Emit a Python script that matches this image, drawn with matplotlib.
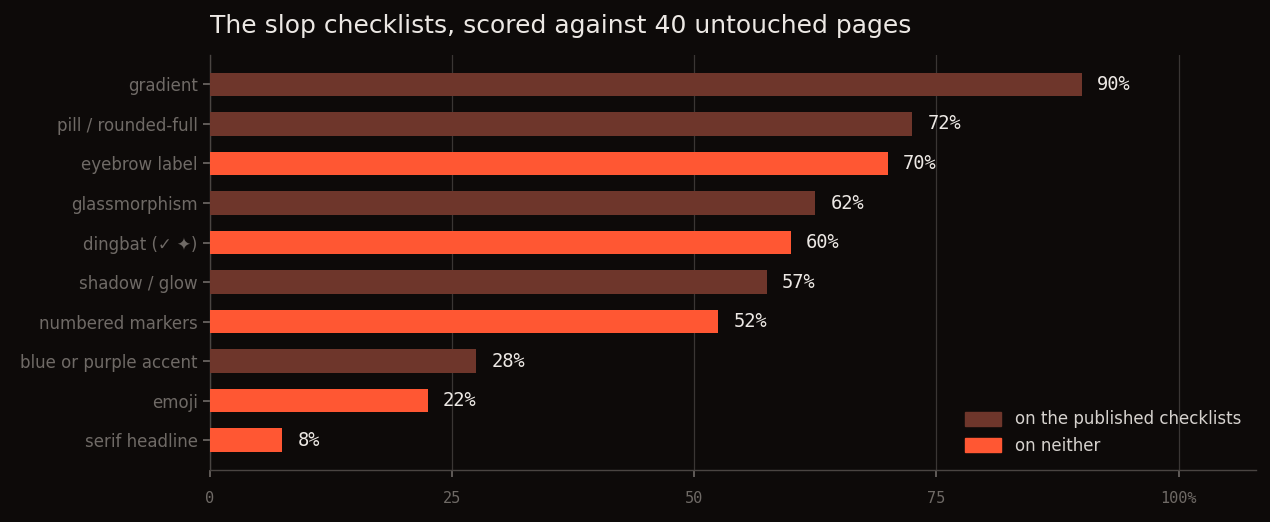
import matplotlib
matplotlib.use('Agg')
import matplotlib.pyplot as plt
from matplotlib.patches import Patch

# Data (share of 40 untouched pages, %)
categories = ['gradient', 'pill / rounded-full', 'eyebrow label', 'glassmorphism',
              'dingbat (✓ ✦)', 'shadow / glow', 'numbered markers',
              'blue or purple accent', 'emoji', 'serif headline']
values = [90, 72.5, 70, 62.5, 60, 57.5, 52.5, 27.5, 22.5, 7.5]
value_labels = ['90%', '72%', '70%', '62%', '60%', '57%', '52%', '28%', '22%', '8%']
on_checklists = [True, True, False, True, False, True, False, True, False, False]
xticks = [0, 25, 50, 75, 100]
xtick_labels = ['0', '25', '50', '75', '100%']

BG = '#0d0a09'
DARK = '#6e362b'
BRIGHT = '#ff5733'
GRID = '#3a3634'
MUTED = '#8a8581'
TEXT = '#ece8e4'

fig, ax = plt.subplots(figsize=(12.7, 5.22), dpi=100)
fig.patch.set_facecolor(BG)
ax.set_facecolor(BG)
fig.subplots_adjust(left=0.165, right=0.989, top=0.895, bottom=0.1)

y = list(range(len(categories)))
colors = [DARK if c else BRIGHT for c in on_checklists]
ax.barh(y, values, height=0.6, color=colors, zorder=3)

for yi, v, lab in zip(y, values, value_labels):
    ax.annotate(lab, (v, yi), xytext=(11, 0), textcoords='offset points',
                va='center', ha='left', color=TEXT, fontsize=13.5,
                family='DejaVu Sans Mono', zorder=4)

ax.set_yticks(y)
ax.set_yticklabels(categories, fontsize=12, color=MUTED)
ax.invert_yaxis()
ax.set_ylim(len(categories) - 0.25, -0.75)

ax.set_xlim(0, 108)
ax.set_xticks(xticks)
ax.set_xticklabels(xtick_labels, fontsize=11, color='#6f6a66',
                   family='DejaVu Sans Mono')

ax.grid(axis='x', color=GRID, linewidth=0.9, zorder=0)
ax.tick_params(axis='both', colors='#6f6a66', length=5, width=1.2)
ax.tick_params(axis='x', pad=10)
for s in ['top', 'right']:
    ax.spines[s].set_visible(False)
for s in ['left', 'bottom']:
    ax.spines[s].set_color('#4a4542')
    ax.spines[s].set_linewidth(1.0)

ax.set_title('The slop checklists, scored against 40 untouched pages',
             loc='left', fontsize=18, color=TEXT, pad=16)

handles = [Patch(color=DARK, label='on the published checklists'),
           Patch(color=BRIGHT, label='on neither')]
leg = ax.legend(handles=handles, loc='lower right', frameon=False,
                fontsize=12, labelcolor='#d6d2ce', handlelength=2.2,
                handleheight=0.9, bbox_to_anchor=(1.0, 0.0))

plt.savefig('out.png', dpi=100, facecolor=BG)
plt.close()
